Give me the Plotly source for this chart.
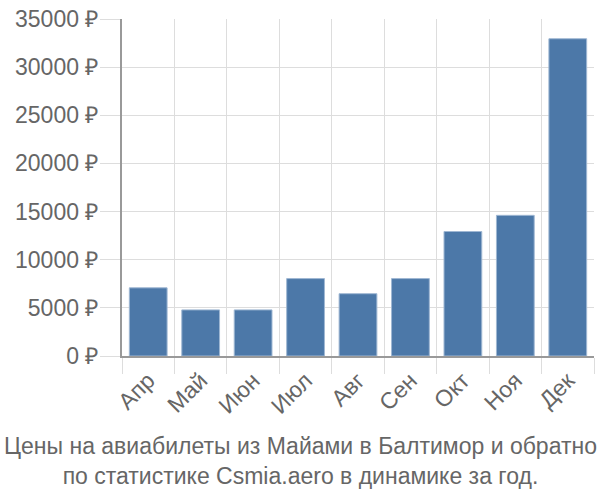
import plotly.graph_objects as go

months = ["Апр", "Май", "Июн", "Июл", "Авг", "Сен", "Окт", "Ноя", "Дек"]
prices = [7080, 4790, 4790, 8040, 6470, 8040, 12930, 14610, 32950]
y_ticks = [0, 5000, 10000, 15000, 20000, 25000, 30000, 35000]
y_tick_text = [f"{v} ₽" for v in y_ticks]
title_lines = ["Цены на авиабилеты из Майами в Балтимор и обратно",
               "по статистике Csmia.aero в динамике за год."]

font_family = "Liberation Sans, Arial, sans-serif"
fs = 23

fig = go.Figure(go.Bar(
    x=months, y=prices, width=0.72,
    marker=dict(color="#4c78a8", line=dict(color="#9fb7d3", width=1)),
))

fig.update_layout(
    width=600, height=500,
    margin=dict(l=122, r=6, t=15, b=144),
    paper_bgcolor="white", plot_bgcolor="white",
    font=dict(family=font_family, size=fs, color="#666666"),
    showlegend=False,
    annotations=[dict(
        text="<br>".join(title_lines), x=(300 - 122) / 472, xref="paper", xanchor="center",
        y=(356 - 462) / 341, yref="paper", yanchor="middle",
        showarrow=False, font=dict(size=fs, color="#666666", family=font_family),
    )],
)

fig.update_xaxes(
    type="category", tickangle=-45, tickson="boundaries",
    showgrid=True, gridcolor="#dddddd", gridwidth=1,
    ticks="outside", ticklen=16, tickcolor="#dddddd",
    showline=True, linecolor="#999999", linewidth=2,
    tickfont=dict(size=fs, color="#666666"),
)
fig.update_yaxes(
    range=[0, 35000], tickvals=y_ticks, ticktext=y_tick_text,
    showgrid=True, gridcolor="#dddddd", gridwidth=1,
    ticks="outside", ticklen=20, tickcolor="#dddddd",
    ticklabelstandoff=-3,
    showline=True, linecolor="#999999", linewidth=2,
    zeroline=False,
    tickfont=dict(size=fs, color="#666666"),
)

fig.write_html("out.html")
